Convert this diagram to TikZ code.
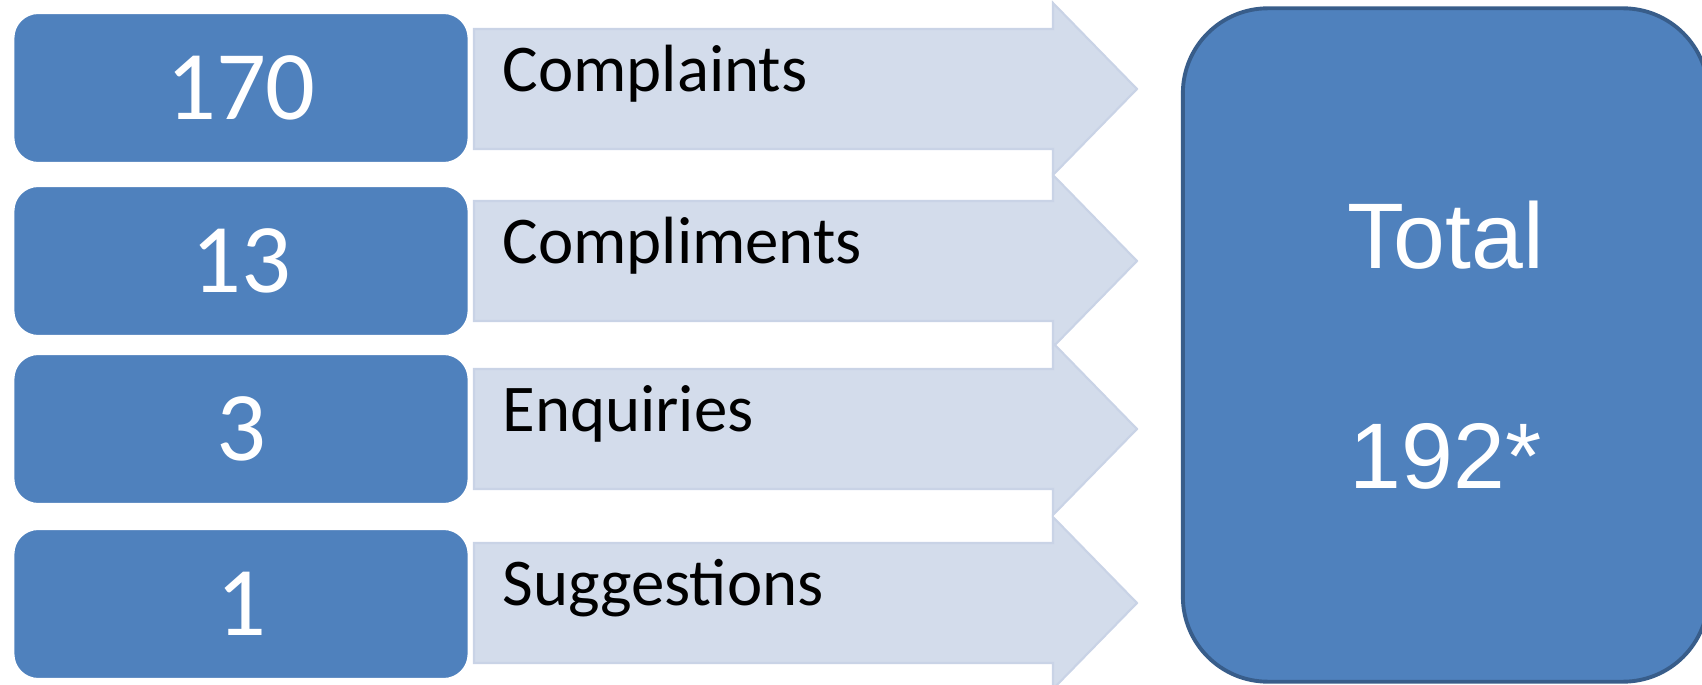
\documentclass[tikz,border=0pt]{standalone}
\usepackage{fontspec}
\setmainfont{Carlito}
\newfontfamily\arialfont{Liberation Sans}
\definecolor{boxblue}{RGB}{79,129,189}
\definecolor{boxedge}{RGB}{56,93,138}
\definecolor{arrowfill}{RGB}{211,220,235}
\definecolor{arrowedge}{RGB}{201,211,230}
\begin{document}
\begin{tikzpicture}[x=0.01cm,y=-0.01cm,
    numbox/.style={fill=boxblue, draw=white, line width=0.6pt, rounded corners=0.25cm,
        minimum width=4.55cm, minimum height=1.5cm, text=white, font=\fontsize{28}{32}\selectfont},
    lbl/.style={anchor=base west, font=\fontsize{19}{22}\selectfont},
    arr/.style={fill=arrowfill, draw=arrowedge, line width=0.6pt}]
    \useasboundingbox (0,0) rectangle (1702,685);
    \foreach \i/\num/\txt/\yb/\ya in {1/170/Complaints/13/29, 2/13/Compliments/186/201,
        3/3/Enquiries/354/369, 4/1/Suggestions/529/543}{
        \draw[arr] (474,\ya) -- (1053,\ya) -- (1053,\ya-26) -- (1137,\ya+60)
            -- (1053,\ya+146) -- (1053,\ya+120) -- (474,\ya+120) -- cycle;
        \node[numbox] (num\i) at (241,\yb+75) {\num};
        \node[lbl] (lbl\i) at (490,\ya+63) {\txt};
    }
    % total on the right, cut off by the page edge
    \node[fill=boxblue, draw=boxedge, line width=1.1pt, rounded corners=0.85cm,
        minimum width=5.25cm, minimum height=6.73cm, text=white, align=center,
        font=\arialfont\fontsize{26.5}{31}\selectfont] (total) at (1445.5,345) {Total\\[1.11cm]192*};
\end{tikzpicture}
\end{document}
